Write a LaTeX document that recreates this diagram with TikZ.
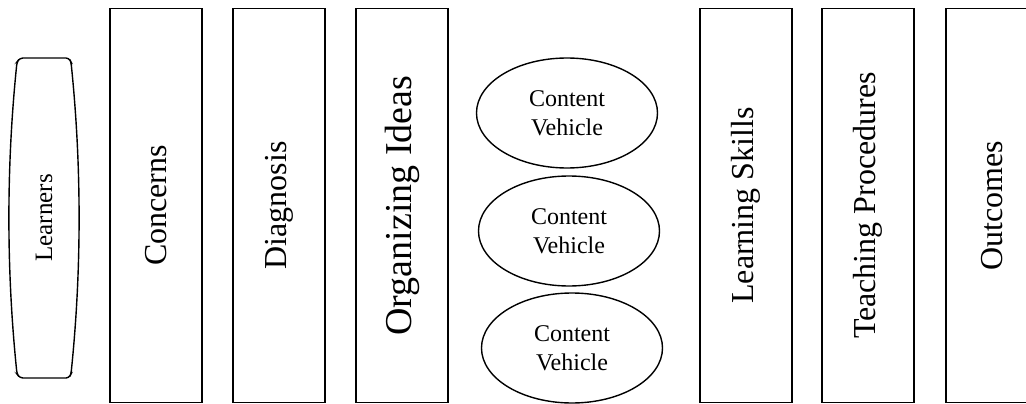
\documentclass[tikz,border=0pt]{standalone}
\usepackage{fontspec}
\setmainfont{Liberation Serif}
\usetikzlibrary{shapes.geometric}
\begin{document}
\begin{tikzpicture}[x=1pt,y=-1pt,
  colbox/.style={draw,line width=1.6pt,rotate=90,minimum width=394pt,minimum height=92pt,inner sep=0pt,font=\fontsize{32}{32}\selectfont},
  cv/.style={draw,ellipse,line width=1.4pt,minimum width=181pt,minimum height=110pt,inner sep=0pt,align=center,font=\fontsize{24}{29}\selectfont}]
\useasboundingbox (0,0) rectangle (1026,404);
\draw[line width=1.4pt,rounded corners=3pt] (20,58) -- (69,58) -- (71,62)
  .. controls (81.7,166) and (81.7,270) .. (71,374) -- (69,378) -- (20,378) -- (17,374)
  .. controls (6.3,270) and (6.3,166) .. (17,62) -- cycle;
\node[rotate=90,font=\fontsize{25}{25}\selectfont] (learners) at (44,218) {Learners};
\node[colbox] (concerns) at (156,205.5) {Concerns};
\node[colbox] (diagnosis) at (279,205.5) {Diagnosis};
\node[colbox,font=\fontsize{38}{38}\selectfont] (organizing) at (402,205.5) {Organizing Ideas};
\node[cv] (cv1) at (567,113) {Content\\Vehicle};
\node[cv] (cv2) at (569,231) {Content\\Vehicle};
\node[cv] (cv3) at (572,348) {Content\\Vehicle};
\node[colbox] (learning) at (746,205.5) {Learning Skills};
\node[colbox] (teaching) at (868,205.5) {Teaching Procedures};
\node[colbox] (outcomes) at (992,205.5) {Outcomes};
\end{tikzpicture}
\end{document}
